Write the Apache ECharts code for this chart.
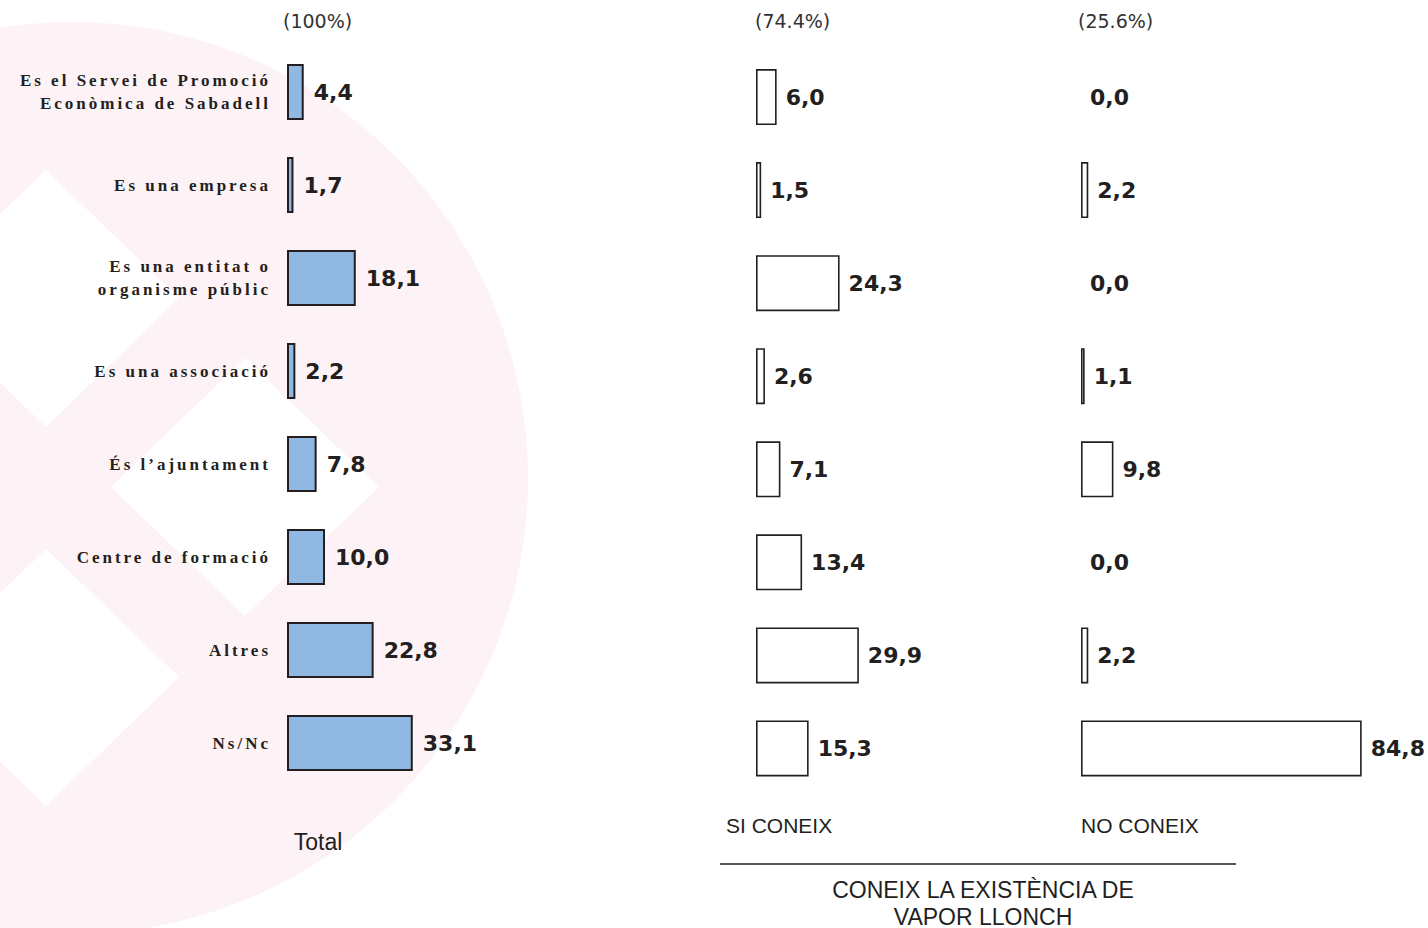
<!DOCTYPE html>
<html>
<head>
<meta charset="utf-8">
<script src="https://cdn.jsdelivr.net/npm/echarts@6/dist/echarts.min.js"></script>
<style>
html, body { margin: 0; padding: 0; background: #ffffff; }
#chart { width: 1428px; height: 928px; }
#chart svg text[style*="Serif"] { letter-spacing: 3px; }
</style>
</head>
<body>
<div id="chart"></div>
<script>
// ---- data ----
const categories = [
  'Es el Servei de Promoció\nEconòmica de Sabadell',
  'Es una empresa',
  'Es una entitat o\norganisme públic',
  'Es una associació',
  'És l\u2019ajuntament',
  'Centre de formació',
  'Altres',
  'Ns/Nc'
];
const totalValues    = [4.4, 1.7, 18.1, 2.2, 7.8, 10.0, 22.8, 33.1];
const siConeixValues = [6.0, 1.5, 24.3, 2.6, 7.1, 13.4, 29.9, 15.3];
const noConeixValues = [0.0, 2.2, 0.0, 1.1, 9.8, 0.0, 2.2, 84.8];
const groupShares = ['(100%)', '(74.4%)', '(25.6%)'];
const groupNames  = ['Total', 'SI CONEIX', 'NO CONEIX'];
const headerTitle = 'CONEIX LA EXISTÈNCIA DE\nVAPOR LLONCH';

// ---- chart ----
const chart = echarts.init(document.getElementById('chart'), null, { renderer: 'svg' });

function fmt(v) { return v.toFixed(1).replace('.', ','); }

const grids = [
  { left: 287,  top: 45.5, width: 380, height: 744 },
  { left: 756,  top: 50.5, width: 344, height: 744.5 },
  { left: 1081, top: 50.5, width: 331, height: 744.5 }
];

function barSeries(values, idx, fill, bw, dist) {
  return {
    type: 'bar',
    xAxisIndex: idx,
    yAxisIndex: idx,
    barWidth: 56,
    z: 5,
    silent: true,
    data: values.map(v => v === 0 ? { value: v, itemStyle: { borderWidth: 0 } } : v),
    itemStyle: { color: fill, borderColor: '#231f20', borderWidth: bw },
    label: {
      show: true,
      position: 'right',
      distance: dist,
      formatter: p => fmt(p.value),
      fontFamily: 'DejaVu Sans',
      fontWeight: 'bold',
      fontSize: 22,
      color: '#231f20'
    }
  };
}

const titleFont = { fontFamily: 'DejaVu Sans', fontWeight: 'normal', fontSize: 19, color: '#333333' };
const sansFont = { fontFamily: 'Liberation Sans', fontWeight: 'normal', color: '#231f20' };

const option = {
  backgroundColor: '#ffffff',
  animation: false,
  title: [
    { text: groupShares[0], left: 283,  top: 11, padding: 0, textStyle: titleFont },
    { text: groupShares[1], left: 755,  top: 11, padding: 0, textStyle: titleFont },
    { text: groupShares[2], left: 1078, top: 11, padding: 0, textStyle: titleFont },
    { text: groupNames[0], left: 318, textAlign: 'center', top: 830, padding: 0,
      textStyle: Object.assign({ fontSize: 23 }, sansFont) },
    { text: groupNames[1], left: 726, top: 815, padding: 0,
      textStyle: Object.assign({ fontSize: 21 }, sansFont) },
    { text: groupNames[2], left: 1081, top: 815, padding: 0,
      textStyle: Object.assign({ fontSize: 21 }, sansFont) },
    { text: headerTitle, left: 983, textAlign: 'center', top: 876, padding: 0,
      textStyle: Object.assign({ fontSize: 23, lineHeight: 27 }, sansFont) }
  ],
  graphic: {
    elements: [
      { type: 'circle', silent: true, z: 1, shape: { cx: 72, cy: 478, r: 456 }, style: { fill: '#fdf2f5' } },
      { type: 'polygon', silent: true, z: 2, shape: { points: [[46, 170], [179, 298], [46, 427], [-87, 298]] }, style: { fill: '#ffffff' } },
      { type: 'polygon', silent: true, z: 2, shape: { points: [[46, 549], [179, 677], [46, 806], [-87, 677]] }, style: { fill: '#ffffff' } },
      { type: 'polygon', silent: true, z: 2, shape: { points: [[245, 358], [379, 487], [245, 616], [111, 487]] }, style: { fill: '#ffffff' } },
      { type: 'line', silent: true, z: 3, shape: { x1: 720, y1: 864, x2: 1236, y2: 864 }, style: { stroke: '#231f20', lineWidth: 1.5 } }
    ]
  },
  grid: grids,
  xAxis: grids.map((g, i) => ({
    type: 'value', gridIndex: i, min: 0, max: 100, show: false
  })),
  yAxis: grids.map((g, i) => ({
    type: 'category',
    gridIndex: i,
    inverse: true,
    data: categories,
    z: 10,
    axisLine: { show: false },
    axisTick: { show: false },
    splitLine: { show: false },
    axisLabel: i === 0 ? {
      show: true,
      margin: 16,
      fontFamily: 'Liberation Serif',
      fontWeight: 'bold',
      fontSize: 17,
      lineHeight: 23,
      color: '#231f20'
    } : { show: false }
  })),
  series: [
    barSeries(totalValues, 0, '#8fb8e2', 2, 10),
    barSeries(siConeixValues, 1, '#ffffff', 1.6, 9),
    barSeries(noConeixValues, 2, '#ffffff', 1.6, 9)
  ]
};

chart.setOption(option);
</script>
</body>
</html>
